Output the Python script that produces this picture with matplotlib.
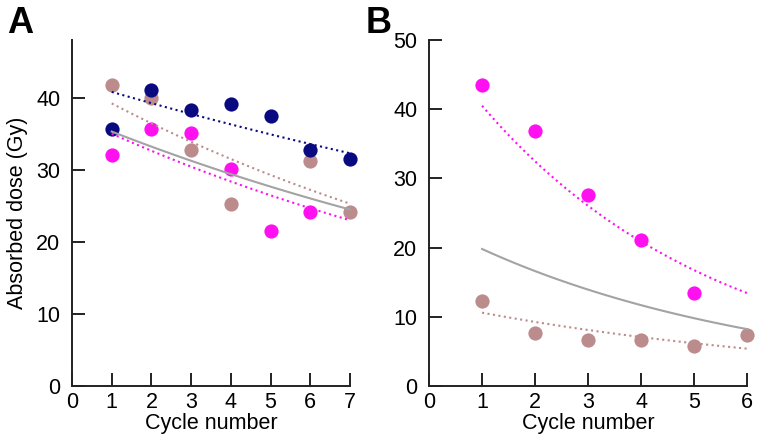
import numpy as np
import matplotlib
matplotlib.use("Agg")
import matplotlib.pyplot as plt

plt.rcParams['font.family'] = ['Liberation Sans', 'DejaVu Sans']

# ---- Panel A data ----
a_cycles = [1, 2, 3, 4, 5, 6, 7]
a_navy_x = [1, 2, 3, 4, 5, 6, 7]
a_navy_y = [35.6, 41.0, 38.3, 39.1, 37.5, 32.7, 31.5]
a_magenta_x = [1, 2, 3, 4, 5, 6]
a_magenta_y = [32.1, 35.7, 35.1, 30.1, 21.5, 24.2]
a_brown_x = [1, 2, 3, 4, 6, 7]
a_brown_y = [41.7, 39.9, 32.8, 25.3, 31.2, 24.2]
# exponential fits: value at cycle 1, decay rate per cycle
a_fit_navy = (40.8, 0.039)
a_fit_brown = (39.2, 0.073)
a_fit_magenta = (35.0, 0.070)
a_fit_gray = (35.3, 0.061)

# ---- Panel B data ----
b_magenta_x = [1, 2, 3, 4, 5]
b_magenta_y = [43.5, 36.9, 27.6, 21.1, 13.5]
b_brown_x = [1, 2, 3, 4, 5, 6]
b_brown_y = [12.3, 7.6, 6.6, 6.7, 5.8, 7.4]
b_fit_magenta = (40.5, 0.221)
b_fit_gray = (19.8, 0.176)
b_fit_brown = (10.6, 0.135)

NAVY = '#0a0a80'
MAGENTA = '#ff10f0'
BROWN = '#bc8c8c'
GRAY = '#a3a3a3'

fig = plt.figure(figsize=(7.6, 4.41), dpi=100)
axA = fig.add_axes([72/760, 55/441, 278/760, 346/441])
axB = fig.add_axes([429/760, 55/441, 318.3/760, 346/441])


def fit_curve(ax, params, x0, x1, color, ls):
    a, k = params
    xs = np.linspace(x0, x1, 100)
    ys = a * np.exp(-k * (xs - 1))
    ax.plot(xs, ys, color=color, ls=ls, lw=1.5, zorder=4, clip_on=False)


def style(ax, xmax, ymax, yticks):
    ax.set_xlim(0, xmax)
    ax.set_ylim(0, ymax)
    for s in ['top', 'right']:
        ax.spines[s].set_visible(False)
    for s in ['left', 'bottom']:
        ax.spines[s].set_linewidth(1.4)
        ax.spines[s].set_color('#222222')
    ax.set_xticks(range(0, xmax + 1))
    ax.set_yticks(yticks)
    ax.tick_params(axis='both', direction='in', length=9.5, width=1.4,
                   color='#222222', labelsize=15.5)
    ax.tick_params(axis='y', pad=8.5)
    ax.tick_params(axis='x', pad=4)
    ax.set_xlabel('Cycle number', fontsize=15.5, labelpad=0)


ms = 105
dot = ':'
# Panel A
axA.scatter(a_brown_x, a_brown_y, s=ms, color=BROWN, zorder=3, clip_on=False, lw=0)
axA.scatter(a_magenta_x, a_magenta_y, s=ms, color=MAGENTA, zorder=3, clip_on=False, lw=0)
axA.scatter(a_navy_x, a_navy_y, s=ms, color=NAVY, zorder=3, clip_on=False, lw=0)
fit_curve(axA, a_fit_navy, 1, 7, NAVY, dot)
fit_curve(axA, a_fit_brown, 1, 7, BROWN, dot)
fit_curve(axA, a_fit_magenta, 1, 7, MAGENTA, dot)
fit_curve(axA, a_fit_gray, 1, 7, GRAY, '-')
style(axA, 7, 48, [0, 10, 20, 30, 40])
axA.set_ylabel('Absorbed dose (Gy)', fontsize=15.5, labelpad=6)

# Panel B
axB.scatter(b_magenta_x, b_magenta_y, s=ms, color=MAGENTA, zorder=3, clip_on=False, lw=0)
axB.scatter(b_brown_x, b_brown_y, s=ms, color=BROWN, zorder=3, clip_on=False, lw=0)
fit_curve(axB, b_fit_magenta, 1, 6, MAGENTA, dot)
fit_curve(axB, b_fit_gray, 1, 6, GRAY, '-')
fit_curve(axB, b_fit_brown, 1, 6, BROWN, dot)
style(axB, 6, 50, [0, 10, 20, 30, 40, 50])

fig.text(7/760, 1 - 33/441, 'A', fontsize=26, fontweight='bold')
fig.text(366/760, 1 - 33/441, 'B', fontsize=26, fontweight='bold')

fig.savefig('out.png', dpi=100)
